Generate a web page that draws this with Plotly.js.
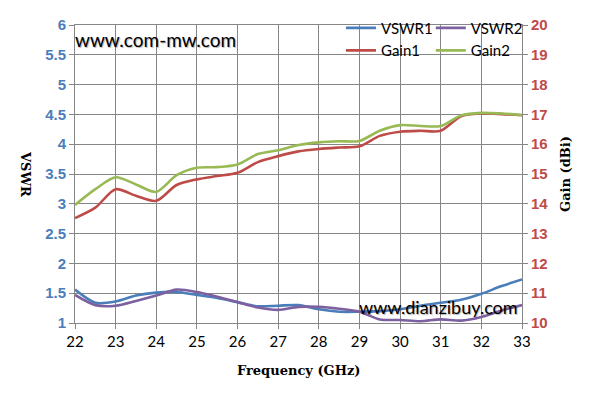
<!DOCTYPE html>
<html>
<head>
<meta charset="utf-8">
<script src="https://cdn.plot.ly/plotly-3.0.1.min.js"></script>
<style>html,body{margin:0;padding:0;background:#fff;}#chart{width:595px;height:404px;}</style>
</head>
<body>
<div id="chart"></div>
<script>
const freq = [22,22.5,23,23.5,24,24.5,25,25.5,26,26.5,27,27.5,28,28.5,29,29.5,30,30.5,31,31.5,32,32.5,33];
const vswr1 = [1.56,1.34,1.36,1.46,1.51,1.52,1.47,1.42,1.35,1.28,1.29,1.30,1.23,1.19,1.19,1.20,1.23,1.29,1.34,1.39,1.49,1.62,1.73];
const vswr2 = [1.47,1.30,1.29,1.37,1.46,1.56,1.52,1.44,1.35,1.26,1.22,1.27,1.27,1.24,1.19,1.06,1.05,1.03,1.06,1.04,1.10,1.21,1.30];
const gain1 = [13.52,13.87,14.49,14.27,14.10,14.63,14.82,14.93,15.04,15.40,15.60,15.76,15.84,15.89,15.93,16.28,16.42,16.45,16.45,16.94,17.03,17.01,16.97];
const gain2 = [13.96,14.49,14.89,14.65,14.40,14.96,15.21,15.23,15.32,15.67,15.80,15.97,16.06,16.10,16.11,16.45,16.64,16.61,16.61,16.96,17.05,17.03,16.98];
const seriesNames = ['VSWR1','VSWR2','Gain1','Gain2'];
const xTicks = [22,23,24,25,26,27,28,29,30,31,32,33];
const vswrTicks = [1,1.5,2,2.5,3,3.5,4,4.5,5,5.5,6];
const gainTicks = [10,11,12,13,14,15,16,17,18,19,20];

const grid = '#868686';
const mk = (name, y, color, axis, leg) => ({
  x: freq, y: y, name: name, type: 'scatter', mode: 'lines',
  yaxis: axis, legend: leg,
  line: {color: color, width: 2.6, shape: 'spline', smoothing: 0.8}
});
const traces = [
  mk(seriesNames[0], vswr1, '#4A7EBB', 'y', 'legend'),
  mk(seriesNames[2], gain1, '#BE4B48', 'y2', 'legend'),
  mk(seriesNames[1], vswr2, '#7D60A0', 'y', 'legend2'),
  mk(seriesNames[3], gain2, '#98B954', 'y2', 'legend2')
];
const legFont = {family: 'Lato, sans-serif', size: 15, color: '#000'};
const tickFam = 'Liberation Sans, Arial, sans-serif';
const layout = {
  width: 595, height: 404,
  margin: {l: 75, r: 73, t: 21, b: 81},
  paper_bgcolor: '#fff', plot_bgcolor: '#fff',
  showlegend: true,
  legend: {x: 0.595, y: 1.045, xanchor: 'left', yanchor: 'top', bgcolor: 'rgba(0,0,0,0)', font: legFont, orientation: 'v', tracegroupgap: 0},
  legend2: {x: 0.796, y: 1.045, xanchor: 'left', yanchor: 'top', bgcolor: 'rgba(0,0,0,0)', font: legFont, orientation: 'v', tracegroupgap: 0},
  xaxis: {
    range: [22, 33], tickvals: xTicks, ticktext: xTicks.map(String),
    showgrid: true, gridcolor: grid, gridwidth: 1,
    showline: true, linecolor: grid, linewidth: 1, mirror: true,
    ticks: 'outside', ticklen: 5, tickcolor: grid,
    tickfont: {family: 'Lato, sans-serif', size: 15, color: '#000'},
    zeroline: false
  },
  yaxis: {
    range: [1, 6], tickvals: vswrTicks, ticktext: vswrTicks.map(v => '<b>' + v + '</b>'),
    showgrid: true, gridcolor: grid, gridwidth: 1,
    showline: true, linecolor: grid, linewidth: 1, mirror: true,
    ticks: 'outside', ticklen: 5, tickcolor: grid,
    tickfont: {family: tickFam, size: 15, color: '#4A7EBB'},
    zeroline: false
  },
  yaxis2: {
    range: [10, 20], tickvals: gainTicks, ticktext: gainTicks.map(v => '<b>' + v + '</b>'),
    overlaying: 'y', side: 'right',
    showgrid: false, showline: true, linecolor: grid, linewidth: 1,
    ticks: 'outside', ticklen: 5, tickcolor: grid,
    tickfont: {family: tickFam, size: 15, color: '#BE4B48'},
    zeroline: false
  },
  annotations: [
    {text: 'www.com-mw.com', xref: 'paper', yref: 'paper', x: -0.005, y: 0.95, xanchor: 'left', yanchor: 'middle', showarrow: false,
     font: {family: 'Lato, sans-serif', size: 19, color: '#000', shadow: '1px 1px 1px rgba(0,0,0,0.3)'}},
    {text: 'www.dianzibuy.com', xref: 'paper', yref: 'paper', x: 0.9955, y: 0.053, xanchor: 'right', yanchor: 'middle', showarrow: false,
     font: {family: 'Lato, sans-serif', size: 18, color: '#000', shadow: '1px 1px 1px rgba(0,0,0,0.3)'}},
    {text: 'Frequency (GHz)', xref: 'paper', yref: 'paper', x: 0.5, y: -0.159, xanchor: 'center', yanchor: 'middle', showarrow: false,
     font: {family: 'DejaVu Serif, serif', size: 13, color: '#000', weight: 'bold'}},
    {text: 'VSWR', xref: 'paper', yref: 'paper', x: -0.1096, y: 0.5, xanchor: 'center', yanchor: 'middle', showarrow: false, textangle: 90,
     font: {family: 'DejaVu Serif, serif', size: 13, color: '#000', weight: 'bold'}},
    {text: 'Gain (dBi)', xref: 'paper', yref: 'paper', x: 1.096, y: 0.5, xanchor: 'center', yanchor: 'middle', showarrow: false, textangle: -90,
     font: {family: 'DejaVu Serif, serif', size: 13, color: '#000', weight: 'bold'}}
  ]
};
Plotly.newPlot('chart', traces, layout, {displayModeBar: false, staticPlot: true});
</script>
</body>
</html>
